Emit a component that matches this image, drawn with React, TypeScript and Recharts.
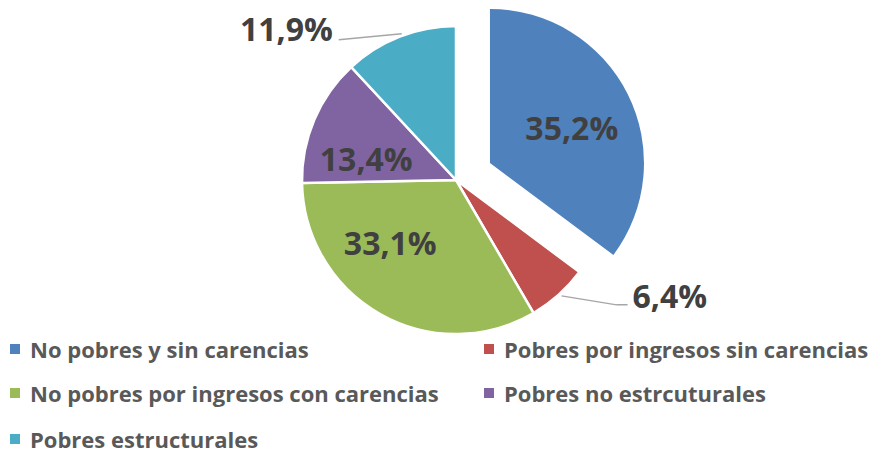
import React from "react";
import { PieChart, Pie, Cell, Legend } from "recharts";

const categories = [
  "No pobres y sin carencias",
  "Pobres por ingresos sin carencias",
  "No pobres por ingresos con carencias",
  "Pobres no estrcuturales",
  "Pobres estructurales",
];
const values = [35.2, 6.4, 33.1, 13.4, 11.9];
const labels = ["35,2%", "6,4%", "33,1%", "13,4%", "11,9%"];
const colors = ["#4F81BD", "#C0504D", "#9BBB59", "#8064A2", "#4BACC6"];

const data = categories.map((name, i) => ({ name, value: values[i] }));

const W = 872;
const H = 453;
const CX = 456;
const CY = 180;
const R = 154;
const EXPLODE = 38;
const FONT = "'Open Sans', sans-serif";

const RAD = Math.PI / 180;
const total = values.reduce((a, b) => a + b, 0);
const blueMid = 90 - (values[0] / total) * 360 / 2;
const ECX = CX + EXPLODE * Math.cos(blueMid * RAD);
const ECY = CY - EXPLODE * Math.sin(blueMid * RAD);

// label placement: inside labels use radius factor + angle shift
const inside: Record<number, { r: number; da: number }> = {
  0: { r: 0.58, da: -3 },
  2: { r: 0.59, da: -17 },
  3: { r: 0.6, da: 9.4 },
};

const renderLabel = (which: "main" | "explode") => (props: any) => {
  const { cx, cy, midAngle, outerRadius, index } = props;
  if (which === "explode" && index !== 0) return null;
  if (which === "main" && index === 0) return null;
  const ins = inside[index];
  if (ins) {
    const a = (midAngle + ins.da) * RAD;
    const x = cx + ins.r * outerRadius * Math.cos(a);
    const y = cy - ins.r * outerRadius * Math.sin(a);
    return (
      <text
        key={`l${index}`}
        x={x}
        y={y}
        textAnchor="middle"
        dominantBaseline="central"
        fill="#404040"
        fontFamily={FONT}
        fontWeight={700}
        fontSize={32}
      >
        {labels[index]}
      </text>
    );
  }
  const a = midAngle * RAD;
  const sx = cx + outerRadius * Math.cos(a);
  const sy = cy - outerRadius * Math.sin(a);
  if (index === 1) {
    const ex = sx + 58;
    const ey = sy + 10;
    return (
      <g key={`l${index}`}>
        <polyline
          points={`${sx + 3},${sy + 1} ${ex},${ey} ${ex + 11},${ey}`}
          fill="none"
          stroke="#A6A6A6"
          strokeWidth={1.5}
        />
        <text
          x={ex + 16}
          y={ey - 9}
          textAnchor="start"
          dominantBaseline="central"
          fill="#404040"
          fontFamily={FONT}
          fontWeight={700}
          fontSize={32}
        >
          {labels[index]}
        </text>
      </g>
    );
  }
  // index 4
  const ex = sx - 61;
  const ey = sy + 3;
  return (
    <g key={`l${index}`}>
      <polyline
        points={`${sx + 2},${sy - 3} ${ex},${ey}`}
        fill="none"
        stroke="#A6A6A6"
        strokeWidth={1.5}
      />
      <text
        x={ex - 6}
        y={ey - 11}
        textAnchor="end"
        dominantBaseline="central"
        fill="#404040"
        fontFamily={FONT}
        fontWeight={700}
        fontSize={32}
      >
        {labels[index]}
      </text>
    </g>
  );
};

const legendRows = [
  [0, 1],
  [2, 3],
  [4],
];
const colLeft = [10, 484];
const rowTop = [338, 382, 428];

const LegendContent = () => (
  <div style={{ position: "relative", width: W, height: 120 }}>
    {legendRows.map((row, ri) =>
      row.map((idx, ci) => (
        <div
          key={idx}
          style={{
            position: "absolute",
            left: colLeft[ci],
            top: rowTop[ri] - 330,
            display: "flex",
            alignItems: "center",
            whiteSpace: "nowrap",
          }}
        >
          <span
            style={{
              display: "inline-block",
              width: 10,
              height: 10,
              background: colors[idx],
              marginRight: 10,
            }}
          />
          <span
            style={{
              fontFamily: FONT,
              fontWeight: 700,
              fontSize: 22,
              color: "#595959",
              lineHeight: "22px",
            }}
          >
            {categories[idx]}
          </span>
        </div>
      ))
    )}
  </div>
);

export default function App() {
  return (
    <div style={{ position: "absolute", left: 0, top: 0, width: W, height: H, background: "#fff" }}>
      <PieChart width={W} height={H} margin={{ top: 0, right: 0, bottom: 0, left: 0 }}>
        <Pie
          data={data}
          dataKey="value"
          nameKey="name"
          cx={CX}
          cy={CY}
          outerRadius={R}
          startAngle={90}
          endAngle={-270}
          isAnimationActive={false}
          labelLine={false}
          label={renderLabel("main")}
          legendType="square"
        >
          {data.map((d, i) => (
            <Cell
              key={d.name}
              fill={i === 0 ? "transparent" : colors[i]}
              stroke={i === 0 ? "none" : "#fff"}
              strokeWidth={2.5}
            />
          ))}
        </Pie>
        <Pie
          data={data}
          dataKey="value"
          nameKey="name"
          cx={ECX}
          cy={ECY}
          outerRadius={R}
          startAngle={90}
          endAngle={-270}
          isAnimationActive={false}
          labelLine={false}
          label={renderLabel("explode")}
          legendType="none"
        >
          {data.map((d, i) => (
            <Cell
              key={d.name}
              fill={i === 0 ? colors[0] : "transparent"}
              stroke="none"
            />
          ))}
        </Pie>
        <Legend
          content={() => <LegendContent />}
          wrapperStyle={{ position: "absolute", left: 0, top: 330, width: W, height: 120 }}
        />
      </PieChart>
    </div>
  );
}
